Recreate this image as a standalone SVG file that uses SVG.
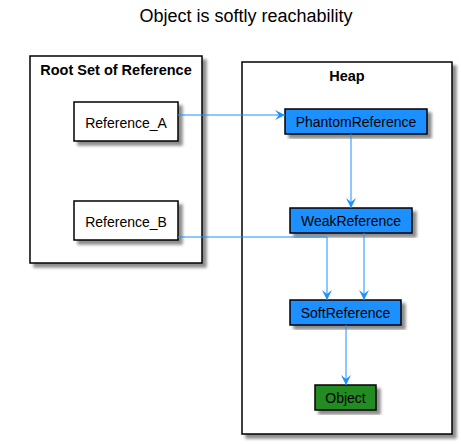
<svg xmlns="http://www.w3.org/2000/svg" width="461" height="444" viewBox="0 0 461 444">
<defs>
<filter id="sh" x="-10%" y="-10%" width="130%" height="130%">
<feGaussianBlur in="SourceAlpha" stdDeviation="1.5"/>
<feOffset dx="4" dy="4" result="b"/>
<feComponentTransfer><feFuncA type="linear" slope="0.45"/></feComponentTransfer>
<feMerge><feMergeNode/><feMergeNode in="SourceGraphic"/></feMerge>
</filter>
<marker id="ah" markerWidth="12" markerHeight="10" refX="10" refY="5" orient="auto" markerUnits="userSpaceOnUse">
<path d="M10,5 L0,0 L4,5 L0,10 Z" fill="#1E90FF"/>
</marker>
<style>
text{font-family:"Liberation Sans",Arial,sans-serif;fill:#000}
.t{font-size:18px;text-anchor:middle}
.pk{font-size:14.5px;font-weight:bold;text-anchor:middle}
.lb{font-size:14px;text-anchor:middle}
.pkg{fill:#fff;stroke:#000;stroke-width:1.5;filter:url(#sh)}
.w{fill:#fff;stroke:#000;stroke-width:1.5;filter:url(#sh)}
.b{fill:#1E90FF;stroke:#000;stroke-width:1.5;filter:url(#sh)}
.g{fill:#228B22;stroke:#000;stroke-width:1.5;filter:url(#sh)}
.e{fill:none;stroke:#1E90FF;stroke-width:1}
</style>
</defs>
<rect width="461" height="444" fill="#fff"/>
<text class="t" x="246" y="22">Object is softly reachability</text>
<g id="root-set">
<rect class="pkg" x="30" y="56" width="172" height="207"/>
<text class="pk" x="116" y="75">Root Set of Reference</text>
</g>
<g id="heap">
<rect class="pkg" x="242" y="62" width="210" height="372"/>
<text class="pk" x="347" y="81">Heap</text>
</g>
<g id="Reference_A">
<rect class="w" x="74" y="102" width="104" height="39"/>
<text class="lb" x="126" y="128">Reference_A</text>
</g>
<g id="Reference_B">
<rect class="w" x="74" y="201" width="104" height="39"/>
<text class="lb" x="126" y="227">Reference_B</text>
</g>
<g id="PhantomReference">
<rect class="b" x="285" y="109" width="142" height="25"/>
<text class="lb" x="356" y="127">PhantomReference</text>
</g>
<g id="WeakReference">
<rect class="b" x="290" y="208" width="122" height="25"/>
<text class="lb" x="351" y="226">WeakReference</text>
</g>
<g id="SoftReference">
<rect class="b" x="290" y="300" width="111" height="25"/>
<text class="lb" x="345.5" y="318">SoftReference</text>
</g>
<g id="Object">
<rect class="g" x="315" y="385" width="61" height="25"/>
<text class="lb" x="345.5" y="403">Object</text>
</g>
<g id="connectors">
<path class="e" d="M178,115 H285" marker-end="url(#ah)"/>
<path class="e" d="M351,134 V208" marker-end="url(#ah)"/>
<path class="e" d="M178,237 H327 V300" marker-end="url(#ah)"/>
<path class="e" d="M364,233 V300" marker-end="url(#ah)"/>
<path class="e" d="M346,325 V385" marker-end="url(#ah)"/>
</g>
</svg>
